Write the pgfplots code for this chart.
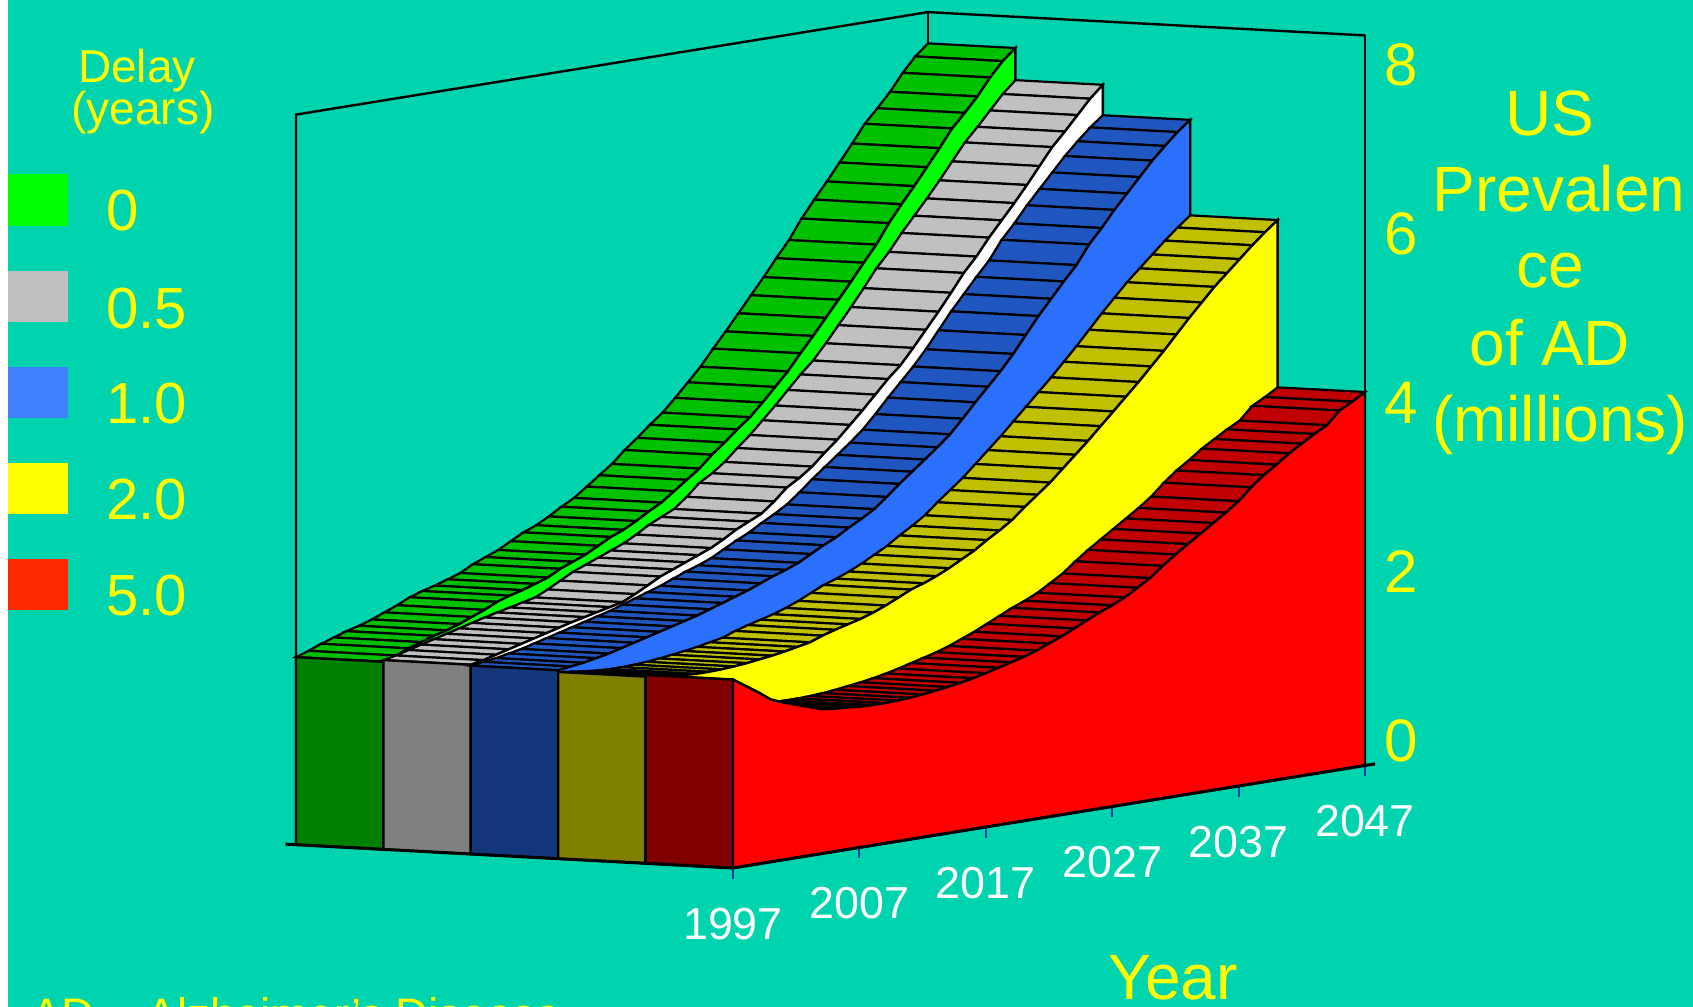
\documentclass[border=0pt]{standalone}
\usepackage{fontspec}
\setmainfont{Liberation Sans}
\usepackage{pgfplots}
\usepackage{pgfplotstable}
\pgfplotsset{compat=1.18}
\definecolor{bg}{RGB}{0,212,174}
\definecolor{ticku}{RGB}{20,60,170}
\definecolor{endgreen}{RGB}{0,128,0}
\definecolor{endgray}{RGB}{128,128,128}
\definecolor{endblue}{RGB}{22,54,124}
\definecolor{endyellow}{RGB}{128,128,0}
\definecolor{endred}{RGB}{128,0,0}
\definecolor{faceblue}{RGB}{43,112,252}
\definecolor{legblue}{RGB}{64,128,255}
\definecolor{legred}{RGB}{255,42,0}
\definecolor{pyellow}{RGB}{255,255,0}
\definecolor{pgreen}{RGB}{0,255,0}
\definecolor{pred}{RGB}{255,0,0}
\pgfplotsset{
 colormap={roofgreen}{rgb255=(0,192,0) rgb255=(0,192,0)},
 colormap={roofgray}{rgb255=(192,192,192) rgb255=(192,192,192)},
 colormap={roofblue}{rgb255=(32,86,192) rgb255=(32,86,192)},
 colormap={roofyellow}{rgb255=(192,192,0) rgb255=(192,192,0)},
 colormap={roofred}{rgb255=(192,0,0) rgb255=(192,0,0)},
}
\pgfplotstableread{
year red yellow blue gray green
1997 2.23 2.21 2.23 2.24 2.22
1998 2.13 2.19 2.25 2.27 2.27
1999 2.03 2.17 2.27 2.31 2.33
2000 1.92 2.155 2.30 2.35 2.38
2001 1.86 2.145 2.33 2.39 2.43
2002 1.81 2.145 2.37 2.43 2.47
2003 1.76 2.15 2.41 2.47 2.52
2004 1.71 2.16 2.45 2.51 2.58
2005 1.69 2.175 2.49 2.55 2.64
2006 1.68 2.195 2.53 2.585 2.71
2007 1.665 2.215 2.57 2.62 2.76
2008 1.66 2.24 2.61 2.655 2.80
2009 1.66 2.27 2.66 2.69 2.85
2010 1.665 2.30 2.71 2.76 2.90
2011 1.675 2.355 2.76 2.84 2.98
2012 1.69 2.40 2.81 2.92 3.04
2013 1.71 2.44 2.87 2.98 3.10
2014 1.73 2.48 2.93 3.04 3.18
2015 1.755 2.53 2.98 3.10 3.26
2016 1.785 2.59 3.04 3.16 3.32
2017 1.82 2.66 3.12 3.24 3.40
2018 1.86 2.73 3.20 3.33 3.49
2019 1.90 2.78 3.27 3.40 3.57
2020 1.94 2.84 3.36 3.47 3.68
2021 1.99 2.91 3.44 3.59 3.79
2022 2.05 2.99 3.53 3.73 3.90
2023 2.11 3.07 3.65 3.82 4.04
2024 2.18 3.17 3.78 3.93 4.16
2025 2.25 3.26 3.90 4.07 4.29
2026 2.32 3.36 4.02 4.20 4.41
2027 2.38 3.49 4.14 4.35 4.56
2028 2.45 3.61 4.27 4.50 4.72
2029 2.54 3.73 4.43 4.66 4.88
2030 2.63 3.87 4.60 4.82 5.07
2031 2.75 4.01 4.76 4.96 5.25
2032 2.86 4.15 4.92 5.14 5.44
2033 2.96 4.30 5.10 5.33 5.63
2034 3.06 4.45 5.30 5.52 5.82
2035 3.16 4.60 5.50 5.72 6.02
2036 3.26 4.75 5.68 5.93 6.21
2037 3.37 4.91 5.86 6.10 6.44
2038 3.51 5.07 6.03 6.30 6.64
2039 3.63 5.24 6.25 6.48 6.83
2040 3.73 5.41 6.42 6.66 7.03
2041 3.84 5.57 6.61 6.85 7.23
2042 3.93 5.73 6.78 7.05 7.44
2043 4.02 5.87 6.95 7.25 7.60
2044 4.10 6.01 7.12 7.41 7.77
2045 4.25 6.15 7.27 7.58 7.97
2046 4.33 6.28 7.41 7.75 8.14
2047 4.42 6.40 7.53 7.89 8.27
}\data
\pgfplotstablevertcat{\datatwo}{\data}
\pgfplotstablevertcat{\datatwo}{\data}
% column, depth front, depth back, end colour, roof colormap, face colour, value at 1997
\newcommand{\series}[7]{%
 \addplot3[surf,mesh/rows=2,shader=faceted,colormap name=#5,faceted color=black,line width=1.1pt]
   table[x=year,y expr={\coordindex>50 ? #3 : #2},z=#1] {\datatwo};
 \addplot3[fill=#4,draw=black,line width=1.2pt,mark=none] coordinates {(1997,#2,0)(1997,#2,#7)(1997,#3,#7)(1997,#3,0)(1997,#2,0)};
 \addplot3[fill=#6,draw=black,line width=1.2pt,mark=none]
   table[x=year,y expr=#2,z=#1] {\data} -- (axis cs:2047,#2,0) -- (axis cs:1997,#2,0) -- cycle;
}
\begin{document}
\begin{tikzpicture}
\clip (0,0) rectangle (846.5pt,503.5pt);
\fill[white] (0,0) rectangle (846.5pt,503.5pt);
\fill[bg] (4pt,0) rectangle (846.5pt,503.5pt);
\begin{scope}[x=0.5pt,y=-0.5pt,shift={(0pt,503.5pt)}]
 \fill[pgreen] (8,174) rectangle (68,226);
 \fill[black!25] (8,271) rectangle (68,322);
 \fill[legblue] (8,367) rectangle (68,418);
 \fill[pyellow] (8,463) rectangle (68,514);
 \fill[legred] (8,559) rectangle (68,610);
 \begin{scope}[every node/.style={text=pyellow,anchor=base,inner sep=0pt,font=\fontsize{23}{27}\selectfont}]
  \node at (137,83) {Delay};
  \node at (143,125) {(years)};
 \end{scope}
 \begin{scope}[every node/.style={text=pyellow,anchor=base west,inner sep=0pt,font=\fontsize{29}{34}\selectfont}]
  \node at (106,231) {0};
  \node at (106,329) {0.5};
  \node at (106,424) {1.0};
  \node at (106,520) {2.0};
  \node at (106,616) {5.0};
 \end{scope}
 \begin{scope}[every node/.style={text=pyellow,anchor=base,inner sep=0pt,font=\fontsize{32}{38}\selectfont}]
  \node at (1550,136) {US};
  \node at (1559,212) {Prevalen};
  \node at (1550,288) {ce};
  \node at (1550,366) {of AD};
  \node at (1560,442) {(millions)};
  \node at (1173,1000) {Year};
 \end{scope}
 \node[overlay,text=pyellow,anchor=base west,inner sep=0pt,font=\fontsize{22.8}{27}\selectfont] at (31,1031) {AD = Alzheimer’s Disease};
\end{scope}
\begin{axis}[
  disabledatascaling,
  anchor=origin, at={(366.5pt,69.5pt)},
  x={(6.32pt,1.025pt)}, y={(-43.7pt,2.33pt)}, z={(0pt,42.25pt)},
  xmin=1997,xmax=2047,ymin=0,ymax=5,zmin=0,zmax=8.64,
  x coord trafo/.code={\pgfmathparse{#1-1997}},
  xtick={1997,2007,2017,2027,2037,2047},
  xticklabels={1997,2007,2017,2027,2037,2047},
  ytick=\empty, ztick={0,2,4,6,8},
  zticklabels={0,2,4,6,8},
  major tick length=0pt, axis line style={draw=none}, grid=none,
  /pgf/number format/assume math mode=true,
  x tick label style={text=white,anchor=center,yshift=-28pt,font=\fontsize{22.4}{26}\selectfont},
  z tick label style={text=pyellow,anchor=center,xshift=552.5pt,yshift=51.9pt,font=\fontsize{30}{36}\selectfont},
  clip=false,
]
\addplot3[black,line width=1.2pt,mark=none] coordinates {(1997,5,0)(1997,5,8.64)(2047,5,8.64)(2047,0,8.64)};
\addplot3[black,line width=1.2pt,mark=none] coordinates {(2047,5,8.64)(2047,5,0)};
\pgfplotsinvokeforeach{1997,2007,2017,2027,2037,2047}{
 \addplot3[ticku,line width=1pt,mark=none] coordinates {(#1,0,0)(#1,0,-0.13)};
}
\series{green}{4}{5}{endgreen}{roofgreen}{pgreen}{2.22}
\series{gray}{3}{4}{endgray}{roofgray}{white}{2.24}
\series{blue}{2}{3}{endblue}{roofblue}{faceblue}{2.23}
\series{yellow}{1}{2}{endyellow}{roofyellow}{pyellow}{2.21}
\series{red}{0}{1}{endred}{roofred}{pred}{2.23}
\addplot3[black,line width=1.5pt,mark=none] coordinates {(1997,5.12,0)(1997,0,0)(2047.8,0,0)};
\addplot3[black,line width=1.2pt,mark=none] coordinates {(2047,0,0)(2047,0,8.64)};
\end{axis}
\end{tikzpicture}
\end{document}
